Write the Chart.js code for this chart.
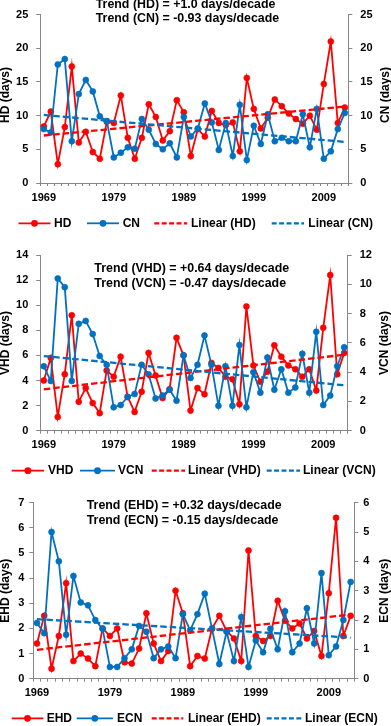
<!DOCTYPE html>
<html><head><meta charset="utf-8">
<script src="https://cdn.jsdelivr.net/npm/chart.js@4"></script>
<style>
html,body{margin:0;padding:0;background:#fff;width:391px;height:726px;overflow:hidden;}
canvas{position:absolute;left:0;}
</style></head><body>
<canvas id="c1" width="391" height="240" style="top:0px;width:391px;height:240px"></canvas>
<canvas id="c2" width="391" height="243" style="top:240px;width:391px;height:243px"></canvas>
<canvas id="c3" width="391" height="243" style="top:483px;width:391px;height:243px"></canvas>
<script>
// ---------- DATA ----------
const years = ['1969','1970','1971','1972','1973','1974','1975','1976','1977','1978',
  '1979','1980','1981','1982','1983','1984','1985','1986','1987','1988',
  '1989','1990','1991','1992','1993','1994','1995','1996','1997','1998',
  '1999','2000','2001','2002','2003','2004','2005','2006','2007','2008',
  '2009','2010','2011','2012'];
const xTickLabels = ['1969','1979','1989','1999','2009'];
const trendYears = ['1969','2012'];

const hd = [8.4,10.6,2.8,8.3,17.3,6.0,7.6,4.6,3.6,9.1,8.9,13.0,6.7,3.6,6.7,11.7,9.8,6.3,7.7,12.3,
  10.5,4.0,8.0,6.9,10.7,8.9,8.6,9.0,4.7,15.6,11.0,8.1,9.7,12.4,11.4,10.3,9.5,8.8,10.0,7.9,14.7,21.0,8.9,11.2];
const cn = [8.0,7.5,17.6,18.4,6.2,13.2,15.3,13.6,9.9,9.2,3.8,4.5,5.3,5.1,9.5,7.9,5.8,5.0,5.9,3.8,
  9.8,6.9,8.1,11.8,9.0,4.9,8.9,4.0,11.6,3.4,8.5,5.8,10.2,6.2,6.7,6.2,6.2,10.2,5.3,11.0,3.6,4.7,8.0,10.4];
const hdTrend = [7.05, 11.35];
const cnTrend = [10.1, 6.1];

const vhd = [4.0,5.8,1.1,4.5,9.2,2.3,3.4,2.2,1.4,4.8,4.3,5.9,2.7,1.5,3.1,6.2,4.4,2.6,3.3,7.4,
  6.0,1.6,3.4,2.9,5.4,5.0,4.3,4.1,2.1,9.9,5.2,3.9,4.7,6.8,5.9,5.2,4.9,4.3,4.9,3.2,8.2,12.4,4.5,6.2];
const vcn = [4.4,3.4,10.4,9.8,3.4,7.3,7.5,6.6,5.1,4.5,1.6,1.75,2.3,2.5,4.5,3.85,2.2,2.4,2.8,2.05,
  5.15,3.6,4.5,6.5,4.5,1.7,4.4,1.7,5.85,1.6,4.0,2.6,5.0,2.8,4.2,2.6,2.95,5.25,2.6,6.75,1.75,2.4,4.4,5.7];
const vhdTrend = [3.3, 6.05];
const vcnTrend = [5.1, 3.1];

const ehd = [1.4,2.5,0.4,1.7,3.8,0.7,1.0,0.8,0.5,2.0,1.7,2.0,0.65,0.6,1.2,2.6,1.4,0.7,1.1,3.5,
  2.6,0.5,0.9,0.8,2.0,2.5,1.9,1.6,0.7,5.1,1.7,1.5,1.7,3.1,2.3,2.0,2.2,1.6,1.9,0.9,3.4,6.4,1.7,2.5];
const ecn = [1.9,1.55,5.0,4.0,1.5,3.5,2.6,2.5,2.0,1.7,0.4,0.4,0.7,1.0,1.8,1.6,0.7,1.0,1.1,0.7,
  2.2,1.65,2.2,2.9,1.7,0.5,1.6,0.6,2.1,0.4,1.3,0.9,1.7,1.0,2.3,0.9,1.2,2.4,1.2,3.6,0.8,1.1,2.0,3.3];
const ehdTrend = [1.15, 2.55];
const ecnTrend = [2.03, 1.4];

// axis ranges [min, max, step]
const hdAxis = [0, 25, 5], cnAxis = [0, 25, 5];
const vhdAxis = [0, 14, 2], vcnAxis = [0, 12, 2];
const ehdAxis = [0, 7, 1], ecnAxis = [0, 6, 1];

// ---------- STYLE ----------
const RED = '#FF0000', BLUE = '#0070C0', GRAY = '#868686';
const FAM = '"Liberation Sans", Arial, sans-serif';

const textPlugin = {
  id: 'panelText',
  afterDraw(chart, args, o) {
    const ctx = chart.ctx;
    ctx.save();
    ctx.fillStyle = '#000';
    ctx.textBaseline = 'middle';
    ctx.font = 'bold 12.4px ' + FAM;
    ctx.textAlign = 'left';
    o.trendText.forEach((t, i) => ctx.fillText(t, o.textX, o.textY[i]));
    ctx.font = 'bold 12px ' + FAM;
    ctx.textAlign = 'center';
    [[o.leftTitle, o.leftTitleX], [o.rightTitle, o.rightTitleX]].forEach(([t, x]) => {
      ctx.save(); ctx.translate(x, o.titleY); ctx.rotate(-Math.PI / 2); ctx.fillText(t, 0, 0); ctx.restore();
    });
    o.legend.forEach((it, i) => {
      const ds = chart.data.datasets[i];
      ctx.strokeStyle = ds.borderColor;
      ctx.lineWidth = ds.borderWidth;
      ctx.setLineDash(ds.borderDash ? [5, 2.4] : []);
      ctx.beginPath(); ctx.moveTo(it[0], o.legendY); ctx.lineTo(it[1], o.legendY); ctx.stroke();
      ctx.setLineDash([]);
      if (ds.pointRadius > 0) {
        ctx.fillStyle = ds.borderColor;
        ctx.beginPath(); ctx.arc((it[0] + it[1]) / 2, o.legendY, ds.pointRadius + 0.4, 0, Math.PI * 2); ctx.fill();
      }
      ctx.fillStyle = '#000';
      ctx.textAlign = 'left';
      ctx.font = 'bold 12px ' + FAM;
      ctx.fillText(ds.label, it[2], o.legendY);
    });
    ctx.restore();
  }
};

function trendData(vals) { return trendYears.map((y, i) => ({ x: y, y: vals[i] })); }

function makePanel(id, p) {
  const tickFont = { family: FAM, size: 11, weight: 'bold' };
  const yScale = (pos, ax, width, pad) => ({
    type: 'linear', position: pos, min: ax[0], max: ax[1],
    ticks: { stepSize: ax[2], font: tickFont, color: '#000', padding: pad },
    grid: { drawOnChartArea: false, drawTicks: true, tickLength: 4, color: GRAY },
    border: { display: true, color: GRAY, width: 1 },
    afterFit: s => { s.width = width; }
  });
  new Chart(document.getElementById(id), {
    type: 'line',
    data: {
      labels: years,
      datasets: [
        { label: p.names[0], data: p.a, yAxisID: 'y', borderColor: RED, backgroundColor: RED,
          pointBackgroundColor: RED, pointBorderColor: RED, borderWidth: 1.8, pointRadius: 3, pointBorderWidth: 0.6, order: 3, tension: 0 },
        { label: p.names[1], data: p.b, yAxisID: 'y2', borderColor: BLUE, backgroundColor: BLUE,
          pointBackgroundColor: BLUE, pointBorderColor: BLUE, borderWidth: 1.8, pointRadius: 3, pointBorderWidth: 0.6, order: 2, tension: 0 },
        { label: 'Linear (' + p.names[0] + ')', data: trendData(p.at), yAxisID: 'y', borderColor: RED,
          borderWidth: 2.3, borderDash: [6.5, 3], pointRadius: 0, order: 1 },
        { label: 'Linear (' + p.names[1] + ')', data: trendData(p.bt), yAxisID: 'y2', borderColor: BLUE,
          borderWidth: 2.3, borderDash: [6.5, 3], pointRadius: 0, order: 0 }
      ]
    },
    options: {
      responsive: false, animation: false, devicePixelRatio: 1,
      layout: { padding: { left: 0, right: 0, top: p.padTop, bottom: p.padBottom } },
      plugins: { legend: { display: false }, tooltip: { enabled: false }, panelText: p.text },
      scales: {
        x: {
          type: 'category', offset: true,
          grid: { offset: true, drawOnChartArea: false, drawTicks: true, tickLength: 3, color: GRAY },
          border: { display: true, color: GRAY, width: 1 },
          ticks: { autoSkip: false, maxRotation: 0, minRotation: 0, padding: 5, font: tickFont, color: '#000',
            callback: function (v) { const l = this.getLabelForValue(v); return xTickLabels.includes(l) ? l : ''; } },
          afterFit: s => { s.height = 25; }
        },
        y: yScale('left', p.aAxis, p.leftW, p.lpad),
        y2: yScale('right', p.bAxis, p.rightW, p.rpad)
      }
    },
    plugins: [textPlugin]
  });
}

makePanel('c1', {
  names: ['HD', 'CN'], a: hd, b: cn, at: hdTrend, bt: cnTrend, aAxis: hdAxis, bAxis: cnAxis,
  leftW: 40.3, rightW: 42.7, lpad: 8, rpad: 8, padTop: 7.3, padBottom: 240 - 183 - 25,
  text: { trendText: ['Trend (HD) = +1.0 days/decade', 'Trend (CN) = -0.93 days/decade'], textX: 95.7, textY: [5, 19],
    leftTitle: 'HD (days)', rightTitle: 'CN (days)', leftTitleX: 6, rightTitleX: 386, titleY: 95,
    legendY: 223.3, legend: [[18.5, 50.5, 54], [87, 119, 122.7], [154.3, 187.3, 191], [271.7, 304, 308.3]] }
});
makePanel('c2', {
  names: ['VHD', 'VCN'], a: vhd, b: vcn, at: vhdTrend, bt: vcnTrend, aAxis: vhdAxis, bAxis: vcnAxis,
  leftW: 40.3, rightW: 43.3, lpad: 8, rpad: 8, padTop: 15, padBottom: 243 - 190.7 - 25,
  text: { trendText: ['Trend (VHD) = +0.64 days/decade', 'Trend (VCN) = -0.47 days/decade'], textX: 94.3, textY: [29, 43.3],
    leftTitle: 'VHD (days)', rightTitle: 'VCN (days)', leftTitleX: 6, rightTitleX: 385, titleY: 103,
    legendY: 230.7, legend: [[11.7, 44, 48], [80, 115, 118], [151.7, 185, 188], [266.7, 300, 303]] }
});
makePanel('c3', {
  names: ['EHD', 'ECN'], a: ehd, b: ecn, at: ehdTrend, bt: ecnTrend, aAxis: ehdAxis, bAxis: ecnAxis,
  leftW: 33.3, rightW: 36.7, lpad: 5, rpad: 5, padTop: 19.7, padBottom: 243 - 195.7 - 25,
  text: { trendText: ['Trend (EHD) = +0.32 days/decade', 'Trend (ECN) = -0.15 days/decade'], textX: 86.7, textY: [23, 37.7],
    leftTitle: 'EHD (days)', rightTitle: 'ECN (days)', leftTitleX: 6, rightTitleX: 385, titleY: 107.7,
    legendY: 235.3, legend: [[11.7, 43.3, 46.7], [76.7, 113, 117], [151.7, 183.3, 188], [266.7, 301.7, 305]] }
});
</script>
</body></html>
